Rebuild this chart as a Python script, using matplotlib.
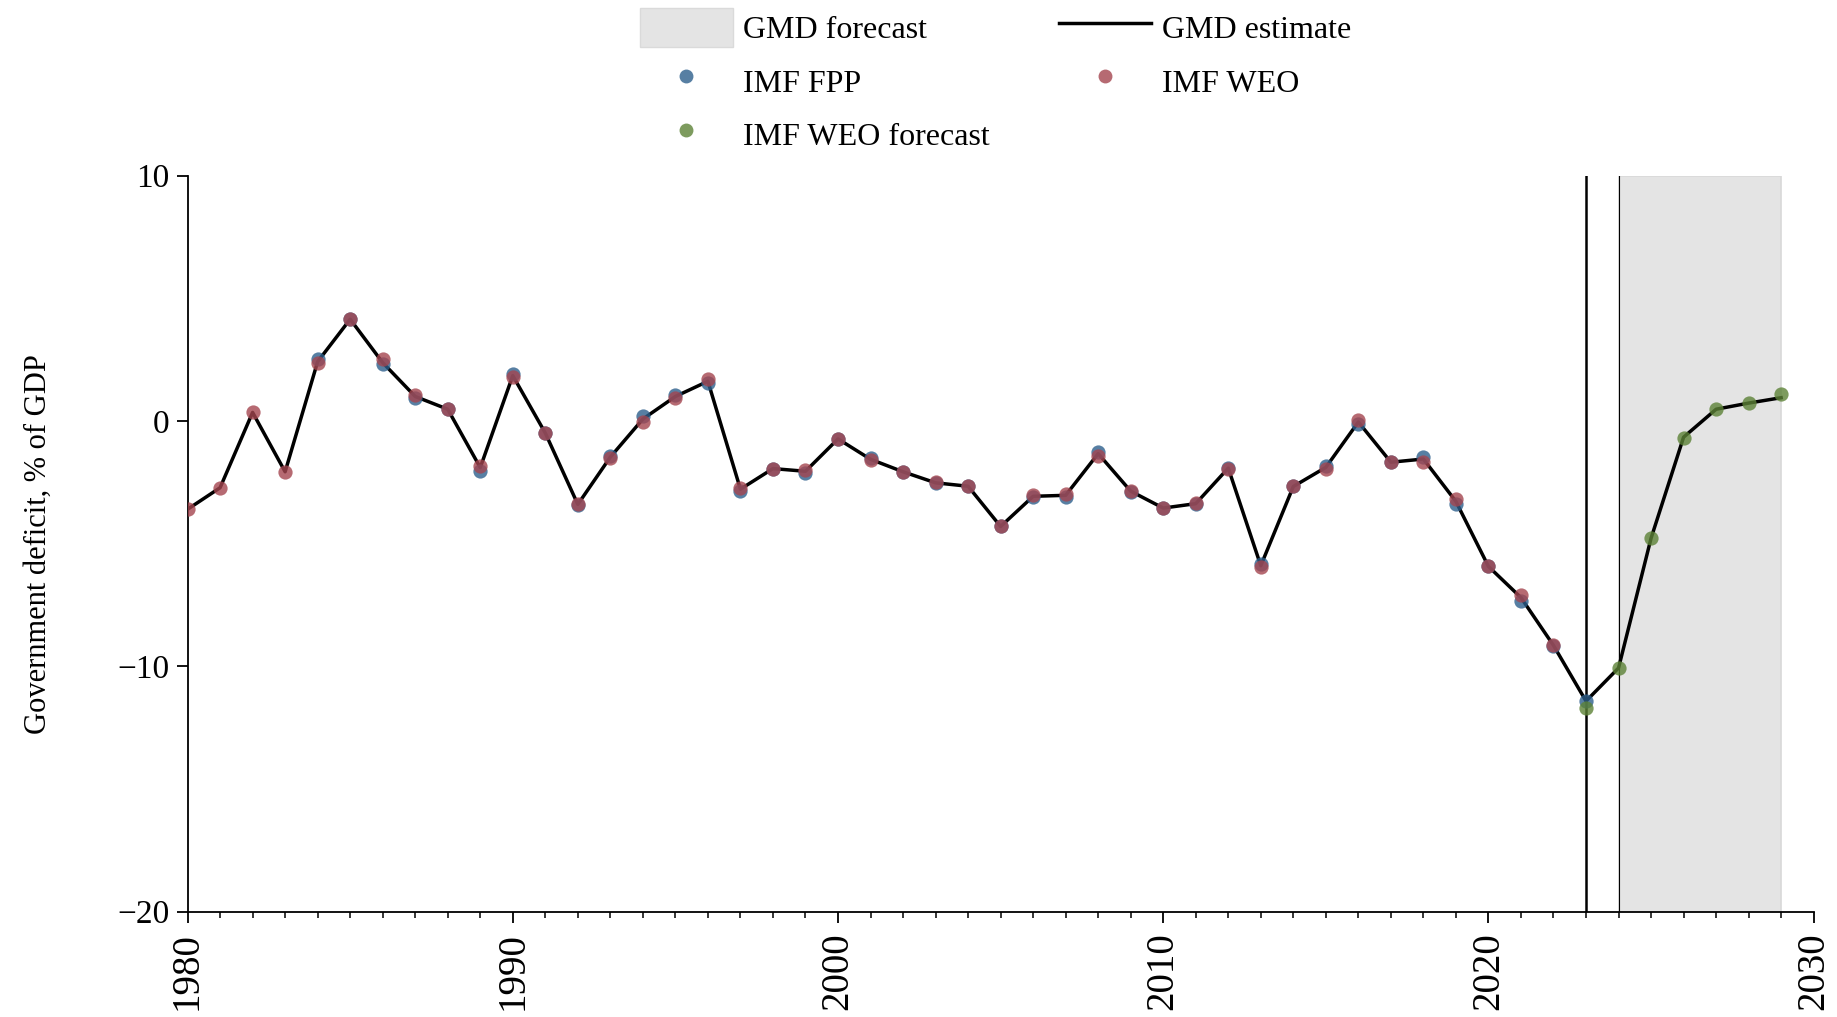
import matplotlib
matplotlib.use("Agg")
import matplotlib.pyplot as plt
from matplotlib.patches import Patch
from matplotlib.lines import Line2D
from matplotlib.ticker import MultipleLocator

plt.rcParams['font.family'] = ['Liberation Serif', 'DejaVu Serif']

# GMD estimate / forecast, % of GDP
gmd_years = list(range(1980, 2030))
gmd_vals = [-3.60, -2.72, 0.35, -2.07, 2.42, 4.15, 2.38, 1.00, 0.48, -1.90,
            1.85, -0.49, -3.40, -1.47, 0.08, 1.00, 1.62, -2.78, -1.94, -2.05,
            -0.73, -1.56, -2.07, -2.52, -2.66, -4.30, -3.07, -3.03, -1.33, -2.86,
            -3.55, -3.37, -1.92, -5.90, -2.67, -1.89, -0.04, -1.68, -1.55, -3.28,
            -5.93, -7.20, -9.15, -11.42, -10.07, -4.78, -0.66, 0.48, 0.73, 0.95]

# IMF Fiscal Policy Projections
fpp_years = list(range(1984, 2024))
fpp_vals = [2.51, 4.15, 2.32, 0.92, 0.48, -2.02, 1.92, -0.48, -3.42, -1.42,
            0.20, 1.05, 1.54, -2.84, -1.94, -2.10, -0.72, -1.52, -2.07, -2.54,
            -2.65, -4.30, -3.11, -3.08, -1.25, -2.88, -3.55, -3.38, -1.90, -5.83,
            -2.67, -1.83, -0.12, -1.68, -1.45, -3.38, -5.93, -7.33, -9.19, -11.42]

# IMF World Economic Outlook
weo_years = list(range(1980, 2023))
weo_vals = [-3.60, -2.74, 0.35, -2.07, 2.38, 4.15, 2.51, 1.06, 0.48, -1.82,
            1.78, -0.50, -3.38, -1.52, -0.03, 0.95, 1.70, -2.74, -1.94, -1.99,
            -0.75, -1.61, -2.07, -2.50, -2.67, -4.30, -3.03, -2.97, -1.42, -2.84,
            -3.55, -3.35, -1.95, -5.97, -2.67, -1.95, 0.04, -1.68, -1.66, -3.19,
            -5.93, -7.08, -9.12]

# IMF WEO forecast
wf_years = list(range(2023, 2030))
wf_vals = [-11.70, -10.07, -4.78, -0.68, 0.47, 0.73, 1.10]

last_actual = 2023
forecast_start, forecast_end = 2024, 2029

c_fpp = '#2d5f8c'
c_weo = '#a4454f'
c_wf = '#5c8236'
c_shade = '#e4e4e4'

fig = plt.figure(figsize=(18.37, 10.17), dpi=100)
ax = fig.add_axes([0.1021, 0.1037, 0.8852, 0.7235])

ax.axvspan(forecast_start, forecast_end, facecolor=c_shade, edgecolor='#d8d8d8', lw=1.2, zorder=0)
ax.axvline(last_actual, color='black', lw=1.8, zorder=1)
ax.axvline(forecast_start, color='black', lw=0.8, zorder=1)

ax.plot(gmd_years, gmd_vals, color='black', lw=2.5, zorder=2)
ax.scatter(fpp_years, fpp_vals, s=105, color=c_fpp, alpha=0.8, lw=0, zorder=3)
ax.scatter(weo_years, weo_vals, s=105, color=c_weo, alpha=0.8, lw=0, zorder=4)
ax.scatter(wf_years, wf_vals, s=105, color=c_wf, alpha=0.8, lw=0, zorder=5)

ax.set_xlim(1980, 2030)
ax.set_ylim(-20, 10)
ax.xaxis.set_major_locator(MultipleLocator(10))
ax.xaxis.set_minor_locator(MultipleLocator(1))
ax.yaxis.set_major_locator(MultipleLocator(10))

for s in ['top', 'right']:
    ax.spines[s].set_visible(False)
for s in ['left', 'bottom']:
    ax.spines[s].set_linewidth(1.3)

ax.tick_params(axis='x', which='major', length=8, width=1.3, pad=7, labelsize=28, labelrotation=90)
ax.tick_params(axis='x', which='minor', length=4, width=1.1)
ax.tick_params(axis='y', which='major', length=8, width=1.3, pad=5, labelsize=24)

ax.set_ylabel('Government deficit, % of GDP', fontsize=22)
ax.yaxis.set_label_coords(-0.083, 0.5)

handles = [
    Patch(facecolor=c_shade, edgecolor='#dadada', label='GMD forecast'),
    Line2D([], [], marker='o', ls='', color=c_fpp, alpha=0.8, markersize=10, mew=0, label='IMF FPP'),
    Line2D([], [], marker='o', ls='', color=c_wf, alpha=0.8, markersize=10, mew=0, label='IMF WEO forecast'),
    Line2D([], [], color='black', lw=2.5, label='GMD estimate'),
    Line2D([], [], marker='o', ls='', color=c_weo, alpha=0.8, markersize=10, mew=0, label='IMF WEO'),
]
fig.legend(handles=handles, loc='upper left', bbox_to_anchor=(0.3484, 0.992), ncol=2,
           frameon=False, fontsize=23, handlelength=2.9, handleheight=1.5,
           handletextpad=0.33, columnspacing=2.15, labelspacing=0.45,
           borderpad=0, borderaxespad=0)

fig.savefig('out.png', dpi=100)
